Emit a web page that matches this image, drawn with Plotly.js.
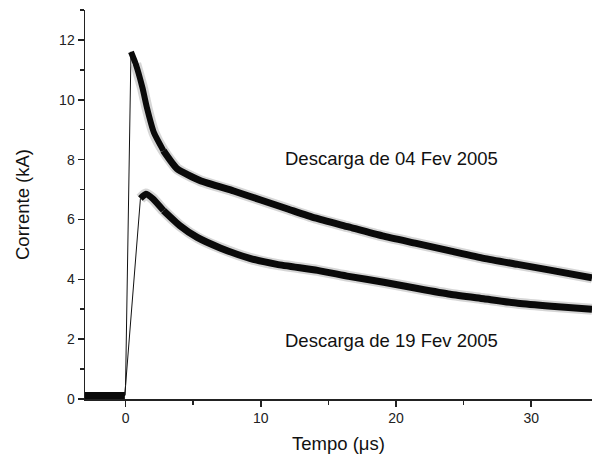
<!DOCTYPE html>
<html>
<head>
<meta charset="utf-8">
<script src="https://cdn.plot.ly/plotly-3.0.1.min.js"></script>
<style>html,body{margin:0;padding:0;background:#fff;}#chart{width:592px;height:462px;}</style>
</head>
<body>
<div id="chart"></div>
<script>
// Discharge of 04 Feb 2005 (time in microseconds, current in kA)
var t04 = [-3, -2, -1, -0.05, 0, 0.4, 0.75, 1.25, 1.6, 2.1, 2.8, 3.8, 5.5, 8, 10, 12, 14, 16.5, 19, 21.5, 24, 26.5, 29, 31.5, 34.5];
var i04 = [0.12, 0.12, 0.12, 0.12, 0.45, 11.6, 11.2, 10.4, 9.7, 8.9, 8.3, 7.7, 7.3, 6.95, 6.65, 6.35, 6.05, 5.75, 5.45, 5.2, 4.95, 4.7, 4.5, 4.3, 4.05];
var peak04 = 5, steady04 = 10;
// Discharge of 19 Feb 2005
var t19 = [-3, -2, -1, -0.05, 0, 1.1, 1.5, 2.0, 2.8, 4, 5.3, 7, 9.2, 11.2, 14.2, 16.5, 19.1, 21.5, 24, 26.5, 29, 31.5, 34.5];
var i19 = [0.12, 0.12, 0.12, 0.12, 0.45, 6.7, 6.85, 6.7, 6.3, 5.8, 5.4, 5.05, 4.7, 4.5, 4.3, 4.1, 3.9, 3.7, 3.5, 3.35, 3.2, 3.1, 3.0];
var peak19 = 5, steady19 = 8;
var labels = ["Descarga de 04 Fev 2005", "Descarga de 19 Fev 2005"];
var labelX = [19.7, 19.7];
var labelY = [8.05, 1.95];

var FONT = 'Liberation Sans, Arial, sans-serif';
function thin(t, y) {
  return {x: t, y: y, mode: 'lines', line: {color: '#111', width: 1}, hoverinfo: 'skip', showlegend: false};
}
function band(t, y, w, c, op) {
  return {x: t, y: y, mode: 'lines', line: {color: c, width: w, shape: 'spline', smoothing: 0.5}, opacity: op, hoverinfo: 'skip', showlegend: false};
}
var traces = [
  thin(t04, i04), thin(t19, i19),
  band(t04.slice(peak04 + 1), i04.slice(peak04 + 1), 11, '#999', 0.4),
  band(t19.slice(peak19), i19.slice(peak19), 11, '#999', 0.4),
  band(t04.slice(peak04, steady04 + 1), i04.slice(peak04, steady04 + 1), 6, '#0a0a0a', 1),
  band(t19.slice(peak19, steady19 + 1), i19.slice(peak19, steady19 + 1), 6.5, '#0a0a0a', 1),
  band(t04.slice(steady04), i04.slice(steady04), 7, '#0a0a0a', 1),
  band(t19.slice(steady19), i19.slice(steady19), 7, '#0a0a0a', 1),
  band(t04.slice(0, 4), i04.slice(0, 4), 7, '#0a0a0a', 1)
];

var annotations = labels.map(function (s, k) {
  return {x: labelX[k], y: labelY[k], xref: 'x', yref: 'y', text: s, showarrow: false,
          font: {family: FONT, size: 18.5, color: '#111'}};
});

var tickFont = {family: FONT, size: 14, color: '#222'};
var layout = {
  width: 592, height: 462,
  margin: {l: 85, r: 0, t: 10, b: 63},
  paper_bgcolor: '#fff', plot_bgcolor: '#fff',
  showlegend: false,
  xaxis: {
    range: [-3, 34.5], tick0: 0, dtick: 10, ticks: 'outside', ticklen: 6, tickwidth: 1.5, tickcolor: '#222',
    minor: {dtick: 5, tick0: 0, ticks: 'outside', ticklen: 4, tickwidth: 1.5, tickcolor: '#222'},
    showline: true, linecolor: '#222', linewidth: 1.5, showgrid: false, zeroline: false,
    tickfont: tickFont,
    title: {text: 'Tempo (μs)', font: {family: FONT, size: 18.5, color: '#111'}, standoff: 12}
  },
  yaxis: {
    range: [0, 13], tick0: 0, dtick: 2, ticks: 'outside', ticklen: 6, tickwidth: 1.5, tickcolor: '#222',
    minor: {dtick: 1, tick0: 0, ticks: 'outside', ticklen: 4, tickwidth: 1.5, tickcolor: '#222'},
    showline: true, linecolor: '#222', linewidth: 1.5, showgrid: false, zeroline: false,
    tickfont: tickFont,
    title: {text: 'Corrente (kA)', font: {family: FONT, size: 18.5, color: '#111'}, standoff: 24}
  },
  annotations: annotations
};
Plotly.newPlot('chart', traces, layout, {displayModeBar: false, staticPlot: true});
</script>
</body>
</html>
